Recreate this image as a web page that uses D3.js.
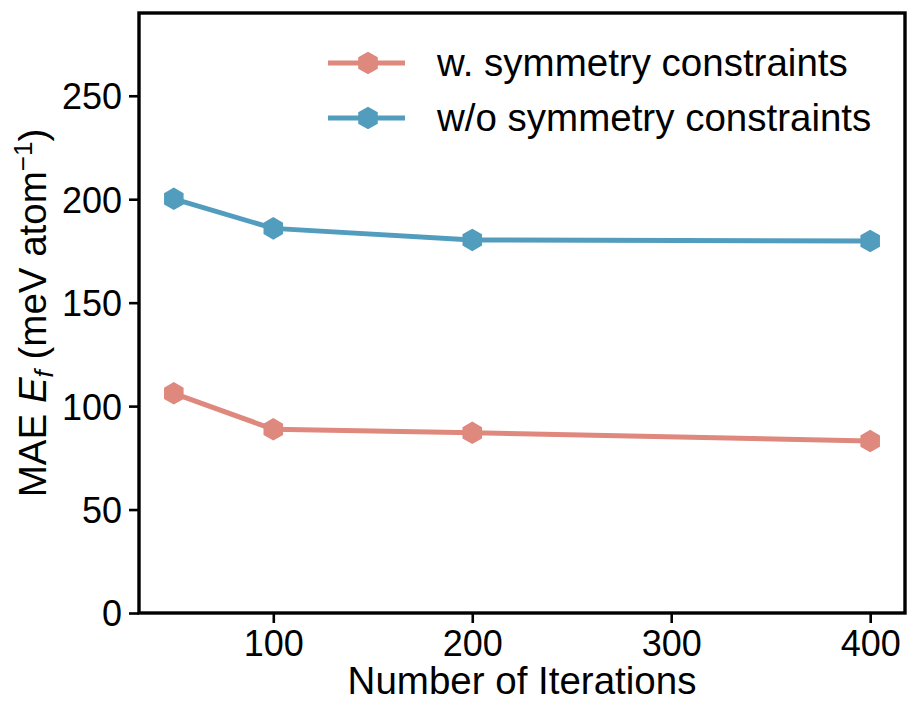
<!DOCTYPE html>
<html>
<head>
<meta charset="utf-8">
<script src="https://cdn.jsdelivr.net/npm/d3@7"></script>
<style>
  html, body { margin: 0; padding: 0; background: #fff; }
  svg { display: block; font-family: "Liberation Sans", Arial, sans-serif; }
</style>
</head>
<body>
<svg id="chart" width="910" height="702"></svg>
<script>
// Iteration counts and MAE of formation energy (meV/atom)
const iterations = [50, 100, 200, 400];
const withSym = [106.2, 88.8, 87.1, 83.1];
const withoutSym = [200.2, 185.9, 180.3, 179.8];
const seriesNames = ["w. symmetry constraints", "w/o symmetry constraints"];
const seriesColors = ["#DF887D", "#529DBE"];
const xTicks = [100, 200, 300, 400];
const yTicks = [0, 50, 100, 150, 200, 250];

const svg = d3.select("#chart");
const margin = { left: 139, right: 5, top: 13, bottom: 89 };
const W = 910, H = 702;

const x = d3.scaleLinear().domain([32.5, 417.5]).range([margin.left, W - margin.right]);
const y = d3.scaleLinear().domain([0, 290]).range([H - margin.bottom, margin.top]);

// axes
const xAxis = svg.append("g")
  .attr("transform", `translate(0,${H - margin.bottom})`)
  .call(d3.axisBottom(x).tickValues(xTicks).tickSize(10).tickPadding(7).tickFormat(d3.format("d")));
const yAxis = svg.append("g")
  .attr("transform", `translate(${margin.left},0)`)
  .call(d3.axisLeft(y).tickValues(yTicks).tickSize(10).tickPadding(7).tickFormat(d3.format("d")));

[xAxis, yAxis].forEach(g => {
  g.select(".domain").remove();
  g.selectAll(".tick line").attr("stroke", "#000").attr("stroke-width", 2.6);
  g.selectAll(".tick text").attr("fill", "#000").style("font-size", "36px");
});
yAxis.selectAll(".tick text").attr("dy", "0.36em");

// hexagon marker with a pointy top
const hexR = 11.3;
const hexPath = d3.range(6).map(i => {
  const a = Math.PI / 2 + i * Math.PI / 3;
  return [hexR * Math.cos(a), hexR * Math.sin(a)];
});
const hexD = "M" + hexPath.map(p => p.join(",")).join("L") + "Z";

const series = [withSym, withoutSym];
const line = d3.line().x((d, i) => x(iterations[i])).y(d => y(d));

series.forEach((vals, k) => {
  svg.append("path")
    .datum(vals)
    .attr("d", line)
    .attr("fill", "none")
    .attr("stroke", seriesColors[k])
    .attr("stroke-width", 5)
    .attr("stroke-linejoin", "round");
  svg.append("g").selectAll("path")
    .data(vals)
    .join("path")
    .attr("d", hexD)
    .attr("transform", (d, i) => `translate(${x(iterations[i])},${y(d)})`)
    .attr("fill", seriesColors[k]);
});

// frame
svg.append("rect")
  .attr("x", margin.left).attr("y", margin.top)
  .attr("width", W - margin.left - margin.right)
  .attr("height", H - margin.top - margin.bottom)
  .attr("fill", "none").attr("stroke", "#000").attr("stroke-width", 3.4);

// legend
const legend = svg.append("g");
seriesNames.forEach((name, k) => {
  const ly = 63 + k * 55;
  legend.append("line")
    .attr("x1", 328).attr("x2", 405).attr("y1", ly).attr("y2", ly)
    .attr("stroke", seriesColors[k]).attr("stroke-width", 5);
  legend.append("path")
    .attr("d", hexD)
    .attr("transform", `translate(368,${ly})`)
    .attr("fill", seriesColors[k]);
  legend.append("text")
    .attr("x", 437).attr("y", ly).attr("dy", "0.35em")
    .style("font-size", "38.5px").attr("fill", "#000")
    .text(name);
});

// axis titles
svg.append("text")
  .attr("x", (margin.left + W - margin.right) / 2).attr("y", 694)
  .attr("text-anchor", "middle")
  .style("font-size", "38.5px").attr("fill", "#000")
  .text("Number of Iterations");

const yl = svg.append("text")
  .attr("transform", `translate(46,${(margin.top + H - margin.bottom) / 2}) rotate(-90)`)
  .attr("text-anchor", "middle")
  .style("font-size", "38.5px").attr("fill", "#000");
yl.append("tspan").text("MAE ");
yl.append("tspan").style("font-style", "italic").text("E");
yl.append("tspan").style("font-style", "italic").style("font-size", "26px").attr("dy", 7).text("f");
yl.append("tspan").attr("dy", -7).text(" (meV atom");
yl.append("tspan").style("font-size", "26px").attr("dy", -14).text("−1");
yl.append("tspan").attr("dy", 14).text(")");
</script>
</body>
</html>
